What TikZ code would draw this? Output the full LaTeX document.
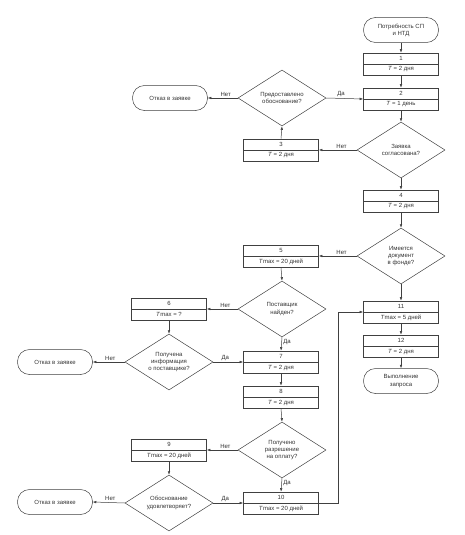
\documentclass[tikz,border=0pt]{standalone}
\usepackage{fontspec}
\setmainfont{Liberation Sans}
\usetikzlibrary{arrows.meta, shapes.geometric}

\tikzset{
    flow/.style={draw=black!75, line width=0.5pt, -{Latex[length=3.5pt,width=2.6pt]}},
    procbox/.style={draw=black!75, line width=0.6pt, minimum width=75pt, minimum height=22pt, inner sep=0pt},
    decision/.style={diamond, draw=black!75, line width=0.5pt, aspect=1.6, minimum width=88pt, minimum height=56pt, inner sep=0pt, align=center},
    terminal/.style={draw=black!75, line width=0.5pt, rounded corners=12pt, minimum width=75pt, minimum height=25pt, align=center},
    lbl/.style={inner sep=1.5pt}
}

\begin{document}
\begin{tikzpicture}[x=1pt, y=-1pt, font=\fontsize{6}{7.2}\selectfont, text=black!80]
    \useasboundingbox (0,0) rectangle (465,535);

    % Process boxes: number on top, time below the divider
    \foreach \n/\x/\y/\t in {1/401/64/{\textit{T} = 2 дня}, 2/401/99/{\textit{T} = 1 день},
        3/281/150/{\textit{T} = 2 дня}, 4/401/201/{\textit{T} = 2 дня},
        5/281/256/{\textit{T}max = 20 дней}, 6/169/309/{\textit{T}max = ?},
        7/281/362/{\textit{T} = 2 дня}, 8/281/397/{\textit{T} = 2 дня},
        9/169/450/{\textit{T}max = 20 дней}, 10/281/503/{\textit{T}max = 20 дней},
        11/401/312/{\textit{T}max = 5 дней}, 12/401/346/{\textit{T} = 2 дня}}{
        \node[procbox] (b\n) at (\x,\y) {};
        \draw[black!75, line width=0.5pt] (b\n.west) -- (b\n.east);
        \node (n\n) at ([yshift=5.5pt]b\n.center) {\n};
        \node (t\n) at ([yshift=-5.5pt]b\n.center) {\t};
    }

    % Start / end / rejection terminals
    \node[terminal] (start) at (401,30) {Потребность СП\\и НТД};
    \node[terminal] (finish) at (401,381) {Выполнение\\запроса};
    \node[terminal] (r1) at (170,98) {Отказ в заявке};
    \node[terminal] (r2) at (55,362) {Отказ в заявке};
    \node[terminal] (r3) at (55,502) {Отказ в заявке};

    % Decisions
    \node[decision] (d1) at (282,98) {Предоставлено\\обоснование?};
    \node[decision] (d2) at (401,150) {Заявка\\согласована?};
    \node[decision] (d3) at (401,256) {Имеется\\документ\\в фонде?};
    \node[decision] (d4) at (282,309) {Поставщик\\найден?};
    \node[decision] (d5) at (169,362) {Получена\\информация\\о поставщике?};
    \node[decision] (d6) at (282,450) {Получено\\разрешение\\на оплату?};
    \node[decision] (d7) at (169,503) {Обоснование\\удовлетворяет?};

    % Right column
    \draw[flow] (start.south) -- (b1.north);
    \draw[flow] (b1.south) -- (b2.north);
    \draw[flow] (b2.south) -- (d2.north);
    \draw[flow] (d2.south) -- (b4.north);
    \draw[flow] (b4.south) -- (d3.north);
    \draw[flow] (d3.south) -- (b11.north);
    \draw[flow] (b11.south) -- (b12.north);
    \draw[flow] (b12.south) -- (finish.north);

    % Approval loop
    \draw[flow] (d2.west) -- node[lbl, pos=0.4, above] (l1) {Нет} (b3.east);
    \draw[flow] (b3.north) -- (d1.south);
    \draw[flow] (d1.east) -- node[lbl, pos=0.4, above] (l2) {Да} (b2.west);
    \draw[flow] (d1.west) -- node[lbl, pos=0.4, above] (l3) {Нет} (r1.east);

    % Supplier branch
    \draw[flow] (d3.west) -- node[lbl, pos=0.4, above] (l4) {Нет} (b5.east);
    \draw[flow] (b5.south) -- (d4.north);
    \draw[flow] (d4.west) -- node[lbl, pos=0.4, above] (l5) {Нет} (b6.east);
    \draw[flow] (d4.south) -- node[lbl, pos=0.35, right] (l6) {Да} (b7.north);
    \draw[flow] (b6.south) -- (d5.north);
    \draw[flow] (d5.west) -- node[lbl, pos=0.45, above] (l7) {Нет} (r2.east);
    \draw[flow] (d5.east) -- node[lbl, pos=0.4, above] (l8) {Да} (b7.west);
    \draw[flow] (b7.south) -- (b8.north);
    \draw[flow] (b8.south) -- (d6.north);

    % Payment branch
    \draw[flow] (d6.west) -- node[lbl, pos=0.4, above] (l9) {Нет} (b9.east);
    \draw[flow] (d6.south) -- node[lbl, pos=0.35, right] (l10) {Да} (b10.north);
    \draw[flow] (b9.south) -- (d7.north);
    \draw[flow] (d7.west) -- node[lbl, pos=0.45, above] (l11) {Нет} (r3.east);
    \draw[flow] (d7.east) -- node[lbl, pos=0.4, above] (l12) {Да} (b10.west);
    \draw[flow] (b10.east) -- ++(19,0) |- (b11.west);
\end{tikzpicture}
\end{document}
